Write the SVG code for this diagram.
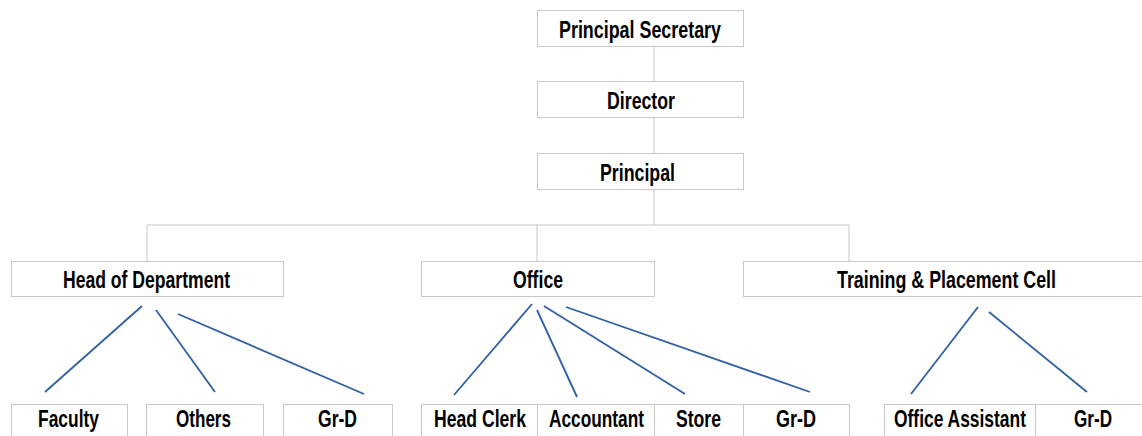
<svg xmlns="http://www.w3.org/2000/svg" width="1142" height="436" viewBox="0 0 1142 436">
<style>
.box{fill:#ffffff;stroke:#c8c8c8;stroke-width:1}
.t{font-family:"Liberation Sans",Arial,sans-serif;font-weight:bold;font-size:24px;fill:#000;text-anchor:middle}
.bus{fill:none;stroke:#c8c8c8;stroke-width:1}
.link{fill:none;stroke:#2f5fa5;stroke-width:1.8}
</style>
<rect width="1142" height="436" fill="#ffffff"/>
<g id="connectors">
<line class="bus" x1="654" y1="46" x2="654" y2="81"/>
<line class="bus" x1="654" y1="117" x2="654" y2="153"/>
<line class="bus" x1="654" y1="189" x2="654" y2="225"/>
<polyline class="bus" points="147,261 147,225 849,225 849,261"/>
<line class="bus" x1="537" y1="225" x2="537" y2="261"/>
<line class="link" x1="142" y1="306" x2="45" y2="392"/>
<line class="link" x1="156" y1="310" x2="215" y2="392"/>
<line class="link" x1="178" y1="314" x2="364" y2="394"/>
<line class="link" x1="532" y1="304" x2="454" y2="395"/>
<line class="link" x1="537" y1="310" x2="577" y2="397"/>
<line class="link" x1="544" y1="306" x2="685" y2="394"/>
<line class="link" x1="566" y1="307" x2="810" y2="392"/>
<line class="link" x1="978" y1="307" x2="911" y2="394"/>
<line class="link" x1="989" y1="312" x2="1087" y2="392"/>
</g>
<g id="principal-secretary"><rect class="box" x="537.5" y="10.5" width="206" height="36"/><text class="t" x="640" y="37.5" textLength="162" lengthAdjust="spacingAndGlyphs">Principal Secretary</text></g>
<g id="director"><rect class="box" x="537.5" y="81.5" width="206" height="36"/><text class="t" x="641" y="108.5" textLength="68" lengthAdjust="spacingAndGlyphs">Director</text></g>
<g id="principal"><rect class="box" x="537.5" y="153.5" width="206" height="36"/><text class="t" x="637.5" y="180.5" textLength="75" lengthAdjust="spacingAndGlyphs">Principal</text></g>
<g id="hod"><rect class="box" x="11.5" y="261.5" width="272" height="35"/><text class="t" x="146.5" y="287.5" textLength="167" lengthAdjust="spacingAndGlyphs">Head of Department</text></g>
<g id="office"><rect class="box" x="421.5" y="261.5" width="233" height="35"/><text class="t" x="538" y="287.5" textLength="50" lengthAdjust="spacingAndGlyphs">Office</text></g>
<g id="tpc"><rect class="box" x="743.5" y="261.5" width="410" height="35"/><text class="t" x="946.5" y="287.5" textLength="219" lengthAdjust="spacingAndGlyphs">Training &amp; Placement Cell</text></g>
<g id="faculty"><rect class="box" x="11.5" y="404.5" width="116" height="40"/><text class="t" x="68.5" y="426.5" textLength="61" lengthAdjust="spacingAndGlyphs">Faculty</text></g>
<g id="others"><rect class="box" x="146.5" y="404.5" width="117" height="40"/><text class="t" x="203.5" y="426.5" textLength="55" lengthAdjust="spacingAndGlyphs">Others</text></g>
<g id="grd-hod"><rect class="box" x="283.5" y="404.5" width="109" height="40"/><text class="t" x="337.5" y="426.5" textLength="39" lengthAdjust="spacingAndGlyphs">Gr-D</text></g>
<g id="head-clerk"><rect class="box" x="421.5" y="404.5" width="116" height="40"/><text class="t" x="480" y="426.5" textLength="92" lengthAdjust="spacingAndGlyphs">Head Clerk</text></g>
<g id="accountant"><rect class="box" x="537.5" y="404.5" width="117" height="40"/><text class="t" x="596.5" y="426.5" textLength="95" lengthAdjust="spacingAndGlyphs">Accountant</text></g>
<g id="store"><rect class="box" x="654.5" y="404.5" width="89" height="40"/><text class="t" x="698.5" y="426.5" textLength="45" lengthAdjust="spacingAndGlyphs">Store</text></g>
<g id="grd-office"><rect class="box" x="743.5" y="404.5" width="106" height="40"/><text class="t" x="796" y="426.5" textLength="40" lengthAdjust="spacingAndGlyphs">Gr-D</text></g>
<g id="office-assistant"><rect class="box" x="884.5" y="404.5" width="151" height="40"/><text class="t" x="960" y="426.5" textLength="132" lengthAdjust="spacingAndGlyphs">Office Assistant</text></g>
<g id="grd-tpc"><rect class="box" x="1035.5" y="404.5" width="120" height="40"/><text class="t" x="1093" y="426.5" textLength="38" lengthAdjust="spacingAndGlyphs">Gr-D</text></g>
</svg>
